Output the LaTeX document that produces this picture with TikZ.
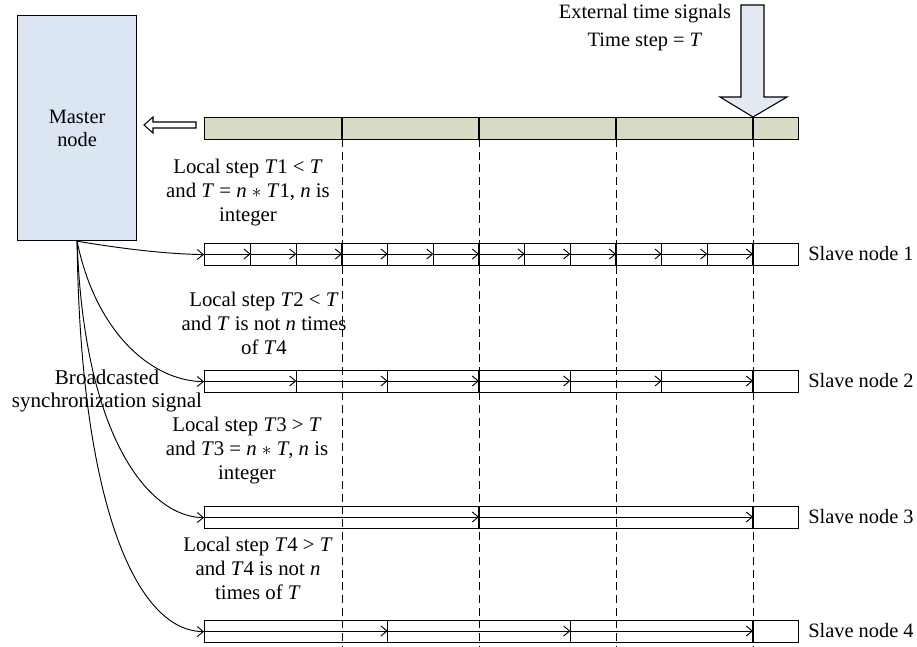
\documentclass[tikz,border=0pt]{standalone}
\usepackage{fontspec}
\setmainfont{Liberation Serif}
\usetikzlibrary{arrows.meta}
\definecolor{masterblue}{RGB}{220,230,242}
\definecolor{arrowblue}{RGB}{228,234,244}
\definecolor{barolive}{RGB}{216,219,196}
\tikzset{
  txt/.style={font=\fontsize{15.3}{17.5}\selectfont, align=center, inner sep=0pt},
  blocktxt/.style={font=\fontsize{15.6}{18}\selectfont, align=center, inner sep=0pt},
  bar/.style={draw, line width=0.9pt, minimum width=445.5pt, minimum height=16.5pt, inner sep=0pt, anchor=north west},
  cell/.style={line width=0.8pt},
  tick/.style={line width=0.7pt, -{Straight Barb[length=4.5pt,width=7.5pt]}},
  sync/.style={line width=0.7pt, -{Straight Barb[length=4.5pt,width=7.5pt]}},
  guide/.style={dash pattern=on 6pt off 3.5pt, line width=0.75pt},
  blockarrow/.style={draw, line width=0.8pt, fill=arrowblue},
}
\begin{document}
\begin{tikzpicture}[x=0.75pt,y=-0.75pt]
\useasboundingbox (0,0) rectangle (917,646);

% master node
\node[draw, line width=0.9pt, fill=masterblue, minimum width=89.25pt, minimum height=168.75pt,
      inner sep=0pt, anchor=north west, txt] (master) at (17,15) {Master\\node};

% external time signal bar
\node[bar, fill=barolive] (extbar) at (204,117) {};
\foreach \x in {342,479,616,753} \draw[cell] (\x,117) -- (\x,139);

% external text and big arrow
\node[txt, font=\fontsize{15.3}{21}\selectfont] (ext) at (645,28) {External time signals\\Time step = \textit{T}};
\draw[blockarrow] (741,5) -- (764,5) -- (764,97) -- (787,97) -- (753,117) -- (720,97) -- (741,97) -- cycle;

% hollow arrow to master
\draw[line width=0.8pt, fill=white] (144,125) -- (153,117) -- (153,122) -- (196,122) -- (196,128) -- (153,128) -- (153,133) -- cycle;

% dashed guides
\foreach \x in {342,479,616,753} \draw[guide] (\x,139) -- (\x,646);

% slave bars
\node[bar] (s1) at (204,243) {};
\node[bar] (s2) at (204,370) {};
\node[bar] (s3) at (204,506) {};
\node[bar] (s4) at (204,620) {};

% slave 1 : T1 = T/3
\foreach \i in {1,...,12} \draw[cell] ({205+137*\i/3},243) -- ++(0,22);
\foreach \i in {0,...,11} \draw[tick] ({205+137*\i/3},254) -- ({205+137*(\i+1)/3},254);
% slave 2 : T2 = 2T/3
\foreach \i in {1,...,6} \draw[cell] ({205+137*2*\i/3},370) -- ++(0,22);
\foreach \i in {0,...,5} \draw[tick] ({205+137*2*\i/3},381) -- ({205+137*2*(\i+1)/3},381);
% slave 3 : T3 = 2T
\foreach \i in {1,2} \draw[cell] ({205+274*\i},506) -- ++(0,22);
\foreach \i in {0,1} \draw[tick] ({205+274*\i},517) -- ({205+274*(\i+1)},517);
% slave 4 : T4 = 4T/3
\foreach \i in {1,2,3} \draw[cell] ({205+137*4*\i/3},620) -- ++(0,22);
\foreach \i in {0,1,2} \draw[tick] ({205+137*4*\i/3},631) -- ({205+137*4*(\i+1)/3},631);

% slave labels
\node[txt, anchor=west] (l1) at (808,254) {Slave node 1};
\node[txt, anchor=west] (l2) at (808,381) {Slave node 2};
\node[txt, anchor=west] (l3) at (808,517) {Slave node 3};
\node[txt, anchor=west] (l4) at (808,631) {Slave node 4};

% broadcast curves
\draw[sync] (master.south) .. controls (130,250) and (170,254) .. (s1.west);
\draw[sync] (master.south) .. controls (95,330) and (150,381) .. (s2.west);
\draw[sync] (master.south) .. controls (84,440) and (150,517) .. (s3.west);
\draw[sync] (master.south) .. controls (80,500) and (135,631) .. (s4.west);

% texts
\node[blocktxt] (t1) at (248,193) {Local step \textit{T}1 < \textit{T}\\and \textit{T} = \textit{n} $\ast$ \textit{T}1, \textit{n} is\\integer};
\node[blocktxt] (t2) at (264,323) {Local step \textit{T}2 < \textit{T}\\and \textit{T} is not \textit{n} times\\of \textit{T}4};
\node[txt, font=\fontsize{15.8}{17}\selectfont] (bc) at (107,391) {Broadcasted\\synchronization signal};
\node[blocktxt] (t3) at (247,451) {Local step \textit{T}3 > \textit{T}\\and \textit{T}3 = \textit{n} $\ast$ \textit{T}, \textit{n} is\\integer};
\node[blocktxt] (t4) at (258,568) {Local step \textit{T}4 > \textit{T}\\and \textit{T}4 is not \textit{n}\\times of \textit{T}};
\end{tikzpicture}
\end{document}
